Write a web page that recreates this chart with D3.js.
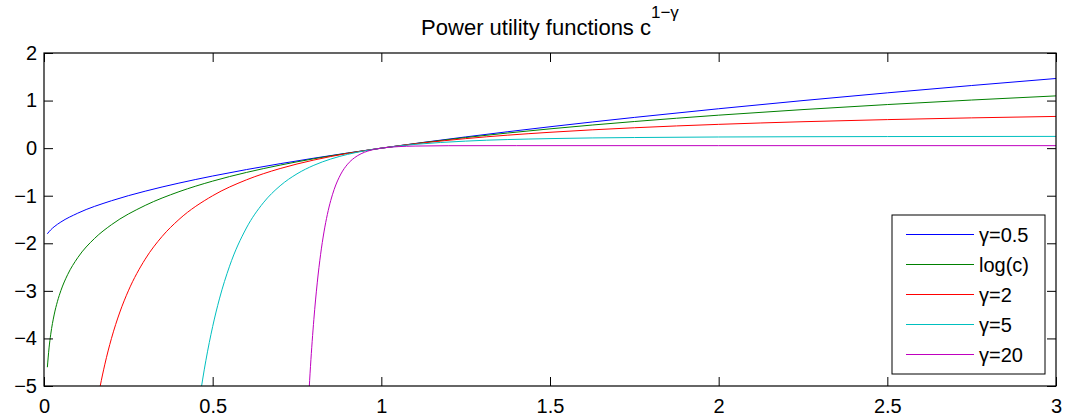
<!DOCTYPE html>
<html>
<head>
<meta charset="utf-8">
<script src="https://cdn.jsdelivr.net/npm/d3@7"></script>
<style>
  html, body { margin: 0; padding: 0; background: #fff; }
  svg { display: block; font-family: "Liberation Sans", Arial, Helvetica, sans-serif; }
</style>
</head>
<body>
<svg id="chart" width="1065" height="417"></svg>
<script>
// ---- data ----
const xTicks = [0, 0.5, 1, 1.5, 2, 2.5, 3];
const yTicks = [-5, -4, -3, -2, -1, 0, 1, 2];

const seriesNames = ["γ=0.5", "log(c)", "γ=2", "γ=5", "γ=20"];
const seriesColors = ["#0000ff", "#008000", "#ff0000", "#00bfbf", "#bf00bf"];

const cHalf = [0.01, 0.02, 0.03, 0.05, 0.1, 0.2, 0.3, 0.4, 0.5, 0.6, 0.7, 0.8, 0.9, 1.0, 1.25, 1.5, 1.75, 2.0, 2.25, 2.5, 2.75, 3.0];
const uHalf = [-1.8, -1.7172, -1.6536, -1.5528, -1.3675, -1.1056, -0.9046, -0.7351, -0.5858, -0.4508, -0.3267, -0.2111, -0.1026, 0, 0.2361, 0.4495, 0.6458, 0.8284, 1.0, 1.1623, 1.3166, 1.4641];

const cLog = [0.01, 0.015, 0.02, 0.03, 0.04, 0.05, 0.07, 0.1, 0.15, 0.2, 0.3, 0.4, 0.5, 0.6, 0.7, 0.8, 0.9, 1.0, 1.25, 1.5, 1.75, 2.0, 2.25, 2.5, 2.75, 3.0];
const uLog = [-4.6052, -4.1997, -3.9120, -3.5066, -3.2189, -2.9957, -2.6593, -2.3026, -1.8971, -1.6094, -1.2040, -0.9163, -0.6931, -0.5108, -0.3567, -0.2231, -0.1054, 0, 0.2231, 0.4055, 0.5596, 0.6931, 0.8109, 0.9163, 1.0116, 1.0986];

const cTwo = [0.15, 0.1667, 0.18, 0.2, 0.225, 0.25, 0.3, 0.35, 0.4, 0.5, 0.6, 0.7, 0.8, 0.9, 1.0, 1.25, 1.5, 1.75, 2.0, 2.25, 2.5, 2.75, 3.0];
const uTwo = [-5.6667, -4.999, -4.5556, -4.0, -3.4444, -3.0, -2.3333, -1.8571, -1.5, -1.0, -0.6667, -0.4286, -0.25, -0.1111, 0, 0.2, 0.3333, 0.4286, 0.5, 0.5556, 0.6, 0.6364, 0.6667];

const cFive = [0.46, 0.47, 0.48, 0.5, 0.52, 0.55, 0.6, 0.65, 0.7, 0.75, 0.8, 0.85, 0.9, 0.95, 1.0, 1.1, 1.25, 1.5, 1.75, 2.0, 2.5, 3.0];
const uFive = [-5.3335, -4.873, -4.4596, -3.75, -3.1692, -2.482, -1.679, -1.1505, -0.7912, -0.5401, -0.3604, -0.2289, -0.1310, -0.0569, 0, 0.0792, 0.1476, 0.2006, 0.2233, 0.2344, 0.2436, 0.2469];

const cTwenty = [0.78, 0.79, 0.8, 0.81, 0.82, 0.83, 0.84, 0.85, 0.86, 0.88, 0.9, 0.92, 0.94, 0.96, 0.98, 1.0, 1.05, 1.1, 1.2, 1.4, 2.0, 3.0];
const uTwenty = [-5.855, -4.586, -3.599, -2.832, -2.231, -1.7616, -1.3926, -1.1016, -0.8716, -0.5445, -0.3370, -0.2040, -0.1179, -0.0617, -0.0246, 0, 0.0318, 0.0440, 0.0510, 0.0525, 0.0526, 0.0526];

const seriesX = [cHalf, cLog, cTwo, cFive, cTwenty];
const seriesY = [uHalf, uLog, uTwo, uFive, uTwenty];

// ---- layout ----
const L = 44, R = 1056, T = 53, B = 386;
const svg = d3.select("#chart");
const x = d3.scaleLinear().domain([0, 3]).range([L, R]);
const y = d3.scaleLinear().domain([-5, 2]).range([B, T]);
const tickLen = 9;
const fontSize = 20;

svg.append("defs").append("clipPath").attr("id", "clip")
  .append("rect").attr("x", L).attr("y", T).attr("width", R - L).attr("height", B - T);

// curves
const line = d3.line().x(d => x(d[0])).y(d => y(d[1])).curve(d3.curveMonotoneX);
const gLines = svg.append("g").attr("clip-path", "url(#clip)");
seriesX.forEach((xs, i) => {
  const pts = xs.map((c, j) => [c, seriesY[i][j]]);
  gLines.append("path").datum(pts)
    .attr("d", line)
    .attr("fill", "none")
    .attr("stroke", seriesColors[i])
    .attr("stroke-width", 1);
});

// axes (MATLAB box with inward ticks on all sides)
const fmt = d => (d < 0 ? "\u2212" + Math.abs(d) : String(d));
const axB = d3.axisBottom(x).tickValues(xTicks).tickSizeInner(-tickLen).tickSizeOuter(0).tickPadding(13).tickFormat(fmt);
const axT = d3.axisTop(x).tickValues(xTicks).tickSizeInner(-tickLen).tickSizeOuter(0).tickFormat("");
const axL = d3.axisLeft(y).tickValues(yTicks).tickSizeInner(-tickLen).tickSizeOuter(0).tickPadding(7).tickFormat(fmt);
const axR = d3.axisRight(y).tickValues(yTicks).tickSizeInner(-tickLen).tickSizeOuter(0).tickFormat("");

function styleAxis(g) {
  g.select(".domain").remove();
  g.selectAll("line").attr("stroke", "#000").attr("stroke-width", 1);
  g.selectAll("text").attr("fill", "#000").style("font-size", fontSize + "px")
    .style("font-family", '"Liberation Sans", Arial, sans-serif');
}
svg.append("g").attr("transform", `translate(0,${B})`).call(axB).call(styleAxis);
svg.append("g").attr("transform", `translate(0,${T})`).call(axT).call(styleAxis);
svg.append("g").attr("transform", `translate(${L},0)`).call(axL).call(styleAxis);
svg.append("g").attr("transform", `translate(${R},0)`).call(axR).call(styleAxis);

svg.append("rect").attr("x", L).attr("y", T).attr("width", R - L).attr("height", B - T)
  .attr("fill", "none").attr("stroke", "#000").attr("stroke-width", 1.2);

// title
const title = svg.append("text").attr("x", (L + R) / 2).attr("y", 35)
  .attr("text-anchor", "middle").attr("fill", "#000")
  .style("font-size", "22px");
title.append("tspan").text("Power utility functions c");
title.append("tspan").attr("dy", -17).style("font-size", "17px").text("1\u2212\u03b3");

// legend
const lg = svg.append("g");
lg.append("rect").attr("x", 892).attr("y", 215).attr("width", 153).attr("height", 159)
  .attr("fill", "#fff").attr("stroke", "#000").attr("stroke-width", 1);
seriesNames.forEach((name, i) => {
  const cy = 234.5 + i * 30;
  lg.append("line").attr("x1", 906).attr("x2", 974).attr("y1", cy).attr("y2", cy)
    .attr("stroke", seriesColors[i]).attr("stroke-width", 1);
  lg.append("text").attr("x", 979).attr("y", cy + 7).attr("fill", "#000")
    .style("font-size", fontSize + "px").text(name);
});
</script>
</body>
</html>
